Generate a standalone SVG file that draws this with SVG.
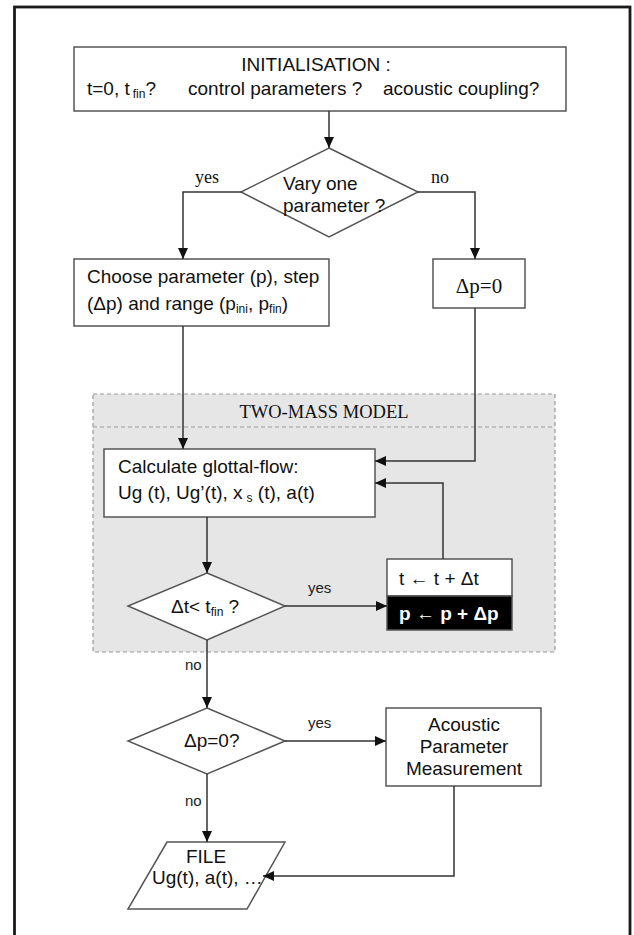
<svg xmlns="http://www.w3.org/2000/svg" width="634" height="935" viewBox="0 0 634 935">
<style>
.box{fill:#fff;stroke:#555;stroke-width:1.5}
.t{font-family:"Liberation Sans",Arial,sans-serif;font-size:19px;fill:#111}
.s{font-family:"Liberation Serif","Times New Roman",serif;fill:#111}
.lbl{font-family:"Liberation Sans",Arial,sans-serif;font-size:15px;fill:#222}
.c{fill:none;stroke:#333;stroke-width:1.5}
.sub{font-size:12px}
</style>
<defs>
<marker id="ah" markerUnits="userSpaceOnUse" markerWidth="12" markerHeight="11" refX="11" refY="5" orient="auto">
<path d="M0,0 L11,5 L0,10 z" fill="#111"/>
</marker>
</defs>
<rect x="0" y="0" width="634" height="935" fill="#fff"/>
<rect x="14.5" y="7" width="615.5" height="960" fill="none" stroke="#1a1a1a" stroke-width="2.8"/>

<g id="two-mass-model">
<rect x="93" y="394" width="462" height="258" fill="#e6e6e6" stroke="#999" stroke-width="1.2" stroke-dasharray="4,3"/>
<line x1="93" y1="427" x2="555" y2="427" stroke="#999" stroke-width="1.2" stroke-dasharray="4,3"/>
<text class="s" x="324" y="418" font-size="18.5" text-anchor="middle">TWO-MASS MODEL</text>
</g>

<g id="init">
<rect class="box" x="74" y="47" width="492" height="64"/>
<text class="t" x="316" y="71" text-anchor="middle">INITIALISATION :</text>
<text class="t" x="87" y="95">t=0, t<tspan class="sub" dx="3" dy="3">fin</tspan><tspan dy="-3">?</tspan></text>
<text class="t" x="188" y="95">control parameters ?</text>
<text class="t" x="383" y="95">acoustic coupling?</text>
</g>

<g id="vary">
<polygon class="box" points="329,148 418,192 329,237 241,192"/>
<text class="t" x="283" y="190" font-size="18">Vary one</text>
<text class="t" x="283" y="212" font-size="18">parameter ?</text>
</g>

<g id="choose">
<rect class="box" x="74" y="259" width="255" height="67"/>
<text class="t" x="87" y="283">Choose parameter (p), step</text>
<text class="t" x="87" y="310">(Δp) and range (p<tspan class="sub" dy="3">ini</tspan><tspan dy="-3">, p</tspan><tspan class="sub" dy="3">fin</tspan><tspan dy="-3">)</tspan></text>
</g>

<g id="dp0">
<rect class="box" x="433" y="259" width="92" height="49"/>
<text class="s" x="479" y="293" font-size="21" text-anchor="middle">Δp=0</text>
</g>

<g id="calc">
<rect class="box" x="104" y="449" width="271" height="68"/>
<text class="t" x="118" y="473">Calculate glottal-flow:</text>
<text class="t" x="118" y="499">Ug (t), Ug’(t), x<tspan class="sub" dx="4" dy="3">s</tspan><tspan dy="-3"> (t), a(t)</tspan></text>
</g>

<g id="dt-test">
<polygon class="box" points="207,573 285,606 207,640 128,606"/>
<text class="t" x="171" y="613">Δt&lt; t<tspan class="sub" dy="3">fin</tspan><tspan dy="-3"> ?</tspan></text>
</g>

<g id="update">
<rect x="387" y="559" width="125" height="37" fill="#fff" stroke="#555" stroke-width="1.5"/>
<rect x="387" y="596" width="125" height="34" fill="#000" stroke="#555" stroke-width="1.5"/>
<text class="t" x="399" y="585" font-size="18">t ← t + Δt</text>
<text class="t" x="399" y="620" font-size="18" font-weight="bold" style="fill:#fff">p ← p + Δp</text>
</g>

<g id="dp-test">
<polygon class="box" points="207,708 285,741 207,774 128,741"/>
<text class="t" x="184" y="747" font-size="18">Δp=0?</text>
</g>

<g id="acoustic">
<rect class="box" x="386" y="708" width="155" height="78"/>
<text class="t" x="464" y="731" text-anchor="middle">Acoustic</text>
<text class="t" x="464" y="753" text-anchor="middle">Parameter</text>
<text class="t" x="464" y="775" text-anchor="middle">Measurement</text>
</g>

<g id="file">
<polygon class="box" points="167,842 285,842 247,909 128,909"/>
<text class="t" x="206" y="863" text-anchor="middle">FILE</text>
<text class="t" x="152" y="884">Ug(t), a(t), …</text>
</g>

<g id="connectors">
<path class="c" d="M329,111 V148" marker-end="url(#ah)"/>
<path class="c" d="M241,192 H183 V259" marker-end="url(#ah)"/>
<path class="c" d="M418,192 H475 V259" marker-end="url(#ah)"/>
<path class="c" d="M183,326 V449" marker-end="url(#ah)"/>
<path class="c" d="M475,308 V461 H375" marker-end="url(#ah)"/>
<path class="c" d="M207,517 V573" marker-end="url(#ah)"/>
<path class="c" d="M285,606 H387" marker-end="url(#ah)"/>
<path class="c" d="M443,559 V483 H375" marker-end="url(#ah)"/>
<path class="c" d="M207,640 V708" marker-end="url(#ah)"/>
<path class="c" d="M285,741 H386" marker-end="url(#ah)"/>
<path class="c" d="M207,774 V842" marker-end="url(#ah)"/>
<path class="c" d="M454,786 V876 H263" marker-end="url(#ah)"/>
<text class="s" x="195" y="183" font-size="18">yes</text>
<text class="s" x="431" y="183" font-size="18">no</text>
<text class="lbl" x="308" y="593">yes</text>
<text class="lbl" x="185" y="670">no</text>
<text class="lbl" x="308" y="728">yes</text>
<text class="lbl" x="185" y="806">no</text>
</g>
</svg>
